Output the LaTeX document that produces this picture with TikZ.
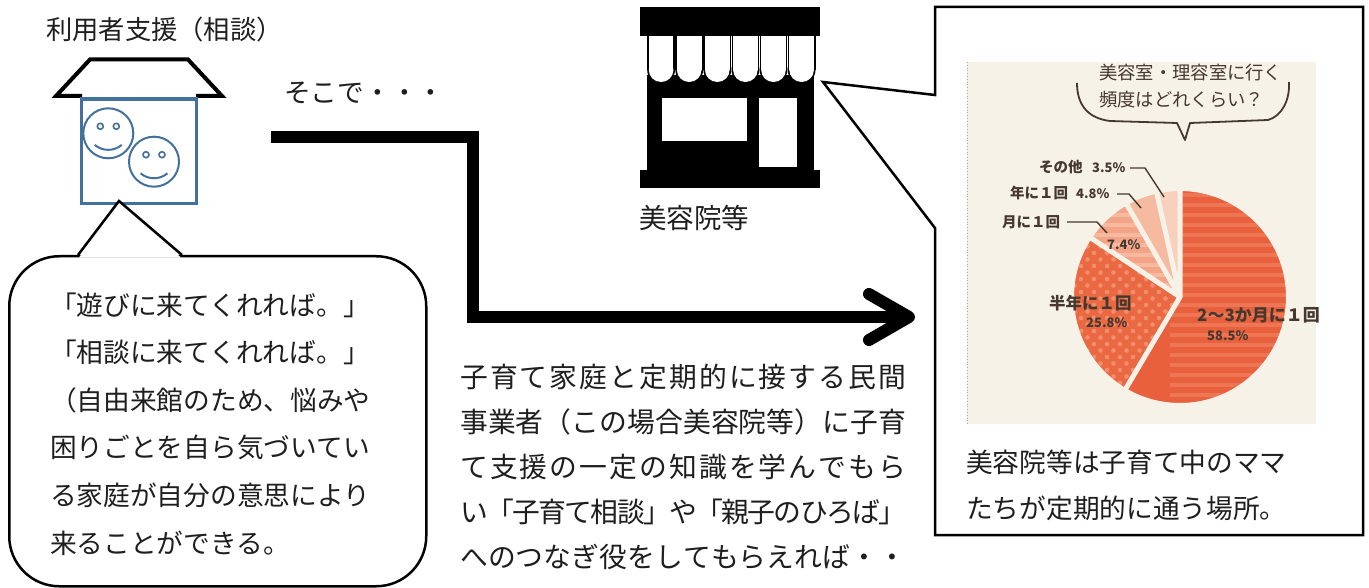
\documentclass[tikz,border=0pt]{standalone}
\usepackage{fontspec}
\setmainfont{Noto Sans CJK JP}
\usetikzlibrary{arrows.meta}
\newcommand\jsize[1]{\fontsize{#1}{#1}\selectfont}
% put stretchable glue between the characters of a line so that it can be justified
\def\spreadout#1{\spreadA#1\spreadend}
\def\spreadA#1#2\spreadend{#1\ifx\relax#2\relax\else\hskip0pt plus 1fil minus 4pt\spreadA#2\spreadend\fi}

\definecolor{ink}{HTML}{1E1E1E}
\definecolor{houseblue}{HTML}{41719C}
\definecolor{cream}{HTML}{F7F2E8}
\definecolor{chartink}{HTML}{45392F}
\definecolor{sliceA}{HTML}{E8603C}
\definecolor{sliceAs}{HTML}{EE7654}
\definecolor{sliceB}{HTML}{EA6942}
\definecolor{sliceBd}{HTML}{F28E6E}
\definecolor{sliceC}{HTML}{F3A486}
\definecolor{sliceCs}{HTML}{F7B99F}
\definecolor{sliceD}{HTML}{F5BA9F}
\definecolor{sliceE}{HTML}{F7D0BE}

\begin{document}
\begin{tikzpicture}[x=1pt, y=-1pt,
  jtext/.style={inner sep=0pt, anchor=base west, text=ink},
  charttext/.style={inner sep=0pt, anchor=base west, text=chartink, font=\bfseries\jsize{14.5}},
  leader/.style={draw=chartink, line width=1.4},
  slicegap/.style={draw=cream, line width=5},
  smiley/.pic={
    \draw[houseblue, line width=2] (0,0) circle (25);
    \draw[houseblue, line width=1.6] (-8,-7) circle (3) (8,-7) circle (3);
    \draw[houseblue, line width=2] (13.5,11.6) .. controls (5.7,18.2) and (-5.7,18.2) .. (-13.5,11.6);
  }]
\useasboundingbox (0,0) rectangle (1369,588);

% ---- user support (house) ----
\node[jtext, font=\jsize{26.3}] (title) at (46,40) {利用者支援（相談）};
\draw[line width=4, line join=miter] (82,96) -- (56,96) -- (90,59.5) -- (188,59.5) -- (222,96) -- (196,96);
\node[draw=houseblue, line width=3.3, minimum width=115, minimum height=104.3,
      inner sep=0, outer sep=0, anchor=north west] (house) at (81.7,99) {};
\pic at (108.3,133.3) {smiley};
\pic at (154,161.7) {smiley};

% ---- speech bubble ----
\node[draw, line width=2.5, rounded corners=50pt, minimum width=417, minimum height=330,
      inner sep=0, anchor=north west] (bubble) at (8,255) {};
\fill[white] (79,257.6) -- (119,202) -- (181,257.6) -- cycle;
\coordinate (bubbletip) at (119,201);
\draw[line width=2.5, line join=miter] (78,255) -- (bubbletip) -- (182,255);
\foreach \t [count=\i from 0] in {「遊びに来てくれれば。」,「相談に来てくれれば。」,（自由来館のため、悩みや,困りごとを自ら気づいてい,る家庭が自分の意思により,来ることができる。}
  \node[jtext, font=\jsize{26.7}] (bubbleline\i) at (50,315.1+47.6*\i) {\t};

% ---- flow arrow ----
\node[jtext, font=\jsize{26.7}] (then) at (284,103) {そこで・・・};
\coordinate (flowstart) at (271,137.5);
\coordinate (flowend) at (915,317);
\draw[line width=12, line join=miter, -{Straight Barb[length=40pt, width=46pt, round]}]
  (flowstart) -| (473,317) -- (flowend);

\foreach \t [count=\i from 0] in {子育て家庭と定期的に接する民間,事業者（この場合美容院等）に子育,て支援の一定の知識を学んでもら,い「子育て相談」や「親子のひろば」,へのつなぎ役をしてもらえれば・・}
  \node[jtext, font=\jsize{27.8}] (midline\i) at (460,387.6+45*\i)
    {\makebox[446pt][s]{\expandafter\spreadout\expandafter{\t}}};

% ---- store icon ----
\node[inner sep=0, minimum width=180, minimum height=181, anchor=north west] (store) at (640,7) {};
\fill[black] (647,75) rectangle (814,171);
\fill[black] (640,7) rectangle (820,36);
\foreach \i in {0,...,5} {
  \pgfmathsetmacro\xa{648.8+\i*28.1}
  \fill[black] (\xa-1.6,34) rectangle (\xa+26.2,70);
  \fill[black] (\xa+12.3,70) ellipse [x radius=13.9, y radius=13.6];
  \fill[white] (\xa,36) rectangle (\xa+24.6,70);
  \fill[white] (\xa+12.3,70) ellipse [x radius=12.3, y radius=12];
}
\fill[white] (662,98) rectangle (747,141);
\fill[white] (759,98) rectangle (797,167);
\fill[black] (640,170) rectangle (820,188);
\node[jtext, font=\jsize{27.5}] (storelabel) at (639,228.5) {美容院等};

% ---- info box with pointer ----
\coordinate (storetip) at (823,82);
\draw[line width=2.5, line join=miter] (935,95) -- (935,7) -- (1363,7) -- (1363,535)
  -- (935,535) -- (935,228) -- (storetip) -- cycle;

% chart panel
\fill[cream] (967,62) rectangle (1316,424);
\draw[gray!70, dotted, line width=0.8] (967,62) -- (967,424);
\node[inner sep=0, anchor=base west, text=chartink, font=\jsize{18.3}] (q1) at (1099,79.5) {美容室・理容室に行く};
\node[inner sep=0, anchor=base west, text=chartink, font=\jsize{18.3}] (q2) at (1099,107) {頻度はどれくらい？};
\draw[chartink, line width=1.8, line join=round]
  (1077,83) .. controls (1077,103) and (1086,118) .. (1110,121) -- (1177,123) -- (1185,140)
  -- (1190,123) -- (1268,120) .. controls (1282,116) and (1290,100) .. (1289,82);

\begin{scope}[shift={(1180,297)}, y=1pt]
  \def\R{107}
  % 2-3 months
  \fill[sliceA] (0,0) -- (90:\R) arc[start angle=90, end angle=-120.6, radius=\R] -- cycle;
  \begin{scope}
    \clip (0,0) -- (90:\R) arc[start angle=90, end angle=-120.6, radius=\R] -- cycle;
    \foreach \yy in {-110,-100,...,110} \fill[sliceAs] (-10,\yy) rectangle (115,\yy+4);
  \end{scope}
  % half a year
  \fill[sliceB] (0,0) -- (-120.6:\R) arc[start angle=-120.6, end angle=-213.5, radius=\R] -- cycle;
  \begin{scope}
    \clip (0,0) -- (-120.6:\R) arc[start angle=-120.6, end angle=-213.5, radius=\R] -- cycle;
    \foreach \xx in {-112,-99,...,10}
      \foreach \yy in {-112,-99,...,60} {
        \fill[sliceBd] (\xx,\yy) circle (2.3);
        \fill[sliceBd] (\xx+6.5,\yy+6.5) circle (2.3);
      }
  \end{scope}
  % monthly
  \fill[sliceC] (0,0) -- (146.5:\R) arc[start angle=146.5, end angle=119.9, radius=\R] -- cycle;
  \begin{scope}
    \clip (0,0) -- (146.5:\R) arc[start angle=146.5, end angle=119.9, radius=\R] -- cycle;
    \foreach \yy in {-10,0,...,110} \fill[sliceCs] (-110,\yy) rectangle (10,\yy+4);
  \end{scope}
  % yearly
  \fill[sliceD] (0,0) -- (119.9:\R) arc[start angle=119.9, end angle=102.6, radius=\R] -- cycle;
  % other
  \fill[sliceE] (0,0) -- (102.6:\R) arc[start angle=102.6, end angle=90, radius=\R] -- cycle;
  % gaps between the slices
  \draw[slicegap, line cap=round] (0,0) -- (90:\R+3) (0,0) -- (-120.6:\R+3) (0,0) -- (146.5:\R+3)
    (0,0) -- (119.9:\R+3) (0,0) -- (102.6:\R+3);
  \draw[cream, line width=4] (0,0) circle (\R+1);
\end{scope}

\node[charttext] (l1) at (1039,173) {その他};
\node[charttext, font=\bfseries\jsize{13}] (l1v) at (1092,173) {3.5\%};
\node[charttext] (l2) at (1010,199) {年に１回};
\node[charttext, font=\bfseries\jsize{13}] (l2v) at (1076,199) {4.8\%};
\node[charttext] (l3) at (1002,228) {月に１回};
\node[charttext, font=\bfseries\jsize{13}] (l3v) at (1107,250) {7.4\%};
\node[charttext, font=\bfseries\jsize{16.5}] (l4) at (1049,309) {半年に１回};
\node[charttext, font=\bfseries\jsize{13}] (l4v) at (1086,327) {25.8\%};
\node[charttext, font=\bfseries\jsize{17}] (l5) at (1197,321) {2〜3か月に１回};
\node[charttext, font=\bfseries\jsize{13}] (l5v) at (1207,340) {58.5\%};
\draw[leader] (1130,168) -- (1145,168) -- (1164,197);
\draw[leader] (1117,194) -- (1129,194) -- (1141,208);
\draw[leader] (1067,222) -- (1097,222) -- (1107,233);

\node[jtext, font=\jsize{26.7}] (cap1) at (966,472) {美容院等は子育て中のママ};
\node[jtext, font=\jsize{26.7}] (cap2) at (966,518) {たちが定期的に通う場所。};
\end{tikzpicture}
\end{document}
